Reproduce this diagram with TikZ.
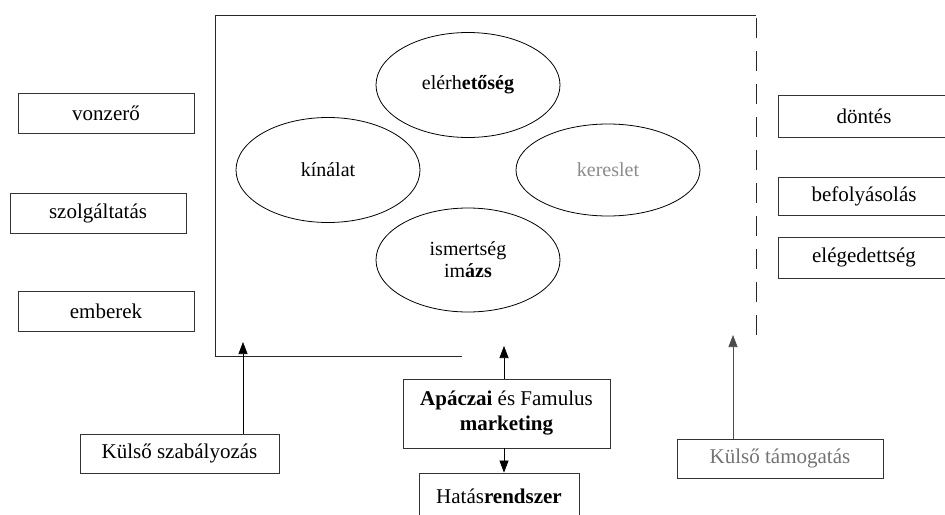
\documentclass[tikz,border=0pt]{standalone}
\usepackage{fontspec}
\setmainfont{Liberation Serif}
\usetikzlibrary{arrows.meta,shapes.geometric}
\begin{document}
\begin{tikzpicture}[x=1pt,y=-1pt,
  box/.style={draw=black!80, line width=0.8pt, inner sep=0pt, font=\fontsize{21}{25}\selectfont, align=center},
  oval/.style={draw=black, line width=0.8pt, ellipse, inner sep=0pt, font=\fontsize{20}{25}\selectfont, align=center},
  arr/.style={line width=0.7pt, -{Triangle[length=12pt,width=9pt]}},
  frame/.style={line width=0.8pt, draw=black!85}]
\useasboundingbox (0,0) rectangle (945,514);
\clip (0,0) rectangle (945,514);
\fill[white] (0,0) rectangle (945,514);

% frame
\draw[frame] (462,356) -- (215,356) -- (215,15) -- (756,15);
\draw[frame, dash pattern=on 20pt off 13pt] (756,18) -- (756,343);

% ellipses
\node[oval, minimum width=184pt, minimum height=105pt] (el) at (468,85) {el\'erh\textbf{etőség}};
\node[oval, minimum width=184pt, minimum height=105pt] (ki) at (328,170) {kínálat};
\node[oval, minimum width=184pt, minimum height=92pt, text=black!45] (ke) at (608,170) {kereslet};
\node[oval, minimum width=184pt, minimum height=104pt] (is) at (468,260) {ismertség\\[-3pt]im\textbf{ázs}};

% left boxes
\node[box, minimum width=176pt, minimum height=40pt] (vo) at (106,113) {vonzerő};
\node[box, minimum width=176pt, minimum height=40pt] (sz) at (98,213) {szolgáltatás};
\node[box, minimum width=176pt, minimum height=40pt] (em) at (106,311) {emberek};

% right boxes
\node[box, minimum width=172pt, minimum height=42pt] (do) at (864,116) {döntés};
\node[box, minimum width=172pt, minimum height=38pt] (be) at (864,196) {befolyásolás};
\node[box, minimum width=172pt, minimum height=41pt] (eg) at (864,257.5) {elégedettség};

% bottom boxes
\node[box, minimum width=199pt, minimum height=39pt] (ksz) at (179.5,453.5) {Külső szabályozás};
\node[box, minimum width=207pt, minimum height=69pt] (apa) at (506.5,413.5) {\textbf{Apáczai} és Famulus\\\textbf{marketing}};
\node[box, minimum width=160pt, minimum height=47pt] (hat) at (499,496.5) {Hatás\textbf{rendszer}};
\node[box, minimum width=206pt, minimum height=39pt, text=black!55] (kt) at (780,458.5) {Külső támogatás};

% arrows
\coordinate (t1) at (243,342);
\coordinate (t2) at (504,346);
\coordinate (t4) at (733,335);
\draw[arr] (ksz.north -| t1) -- (t1);
\draw[arr] (apa.north -| t2) -- (t2);
\draw[arr] (apa.south -| t2) -- (hat.north -| t2);
\draw[arr, draw=black!70] (kt.north -| t4) -- (t4);
\end{tikzpicture}
\end{document}
